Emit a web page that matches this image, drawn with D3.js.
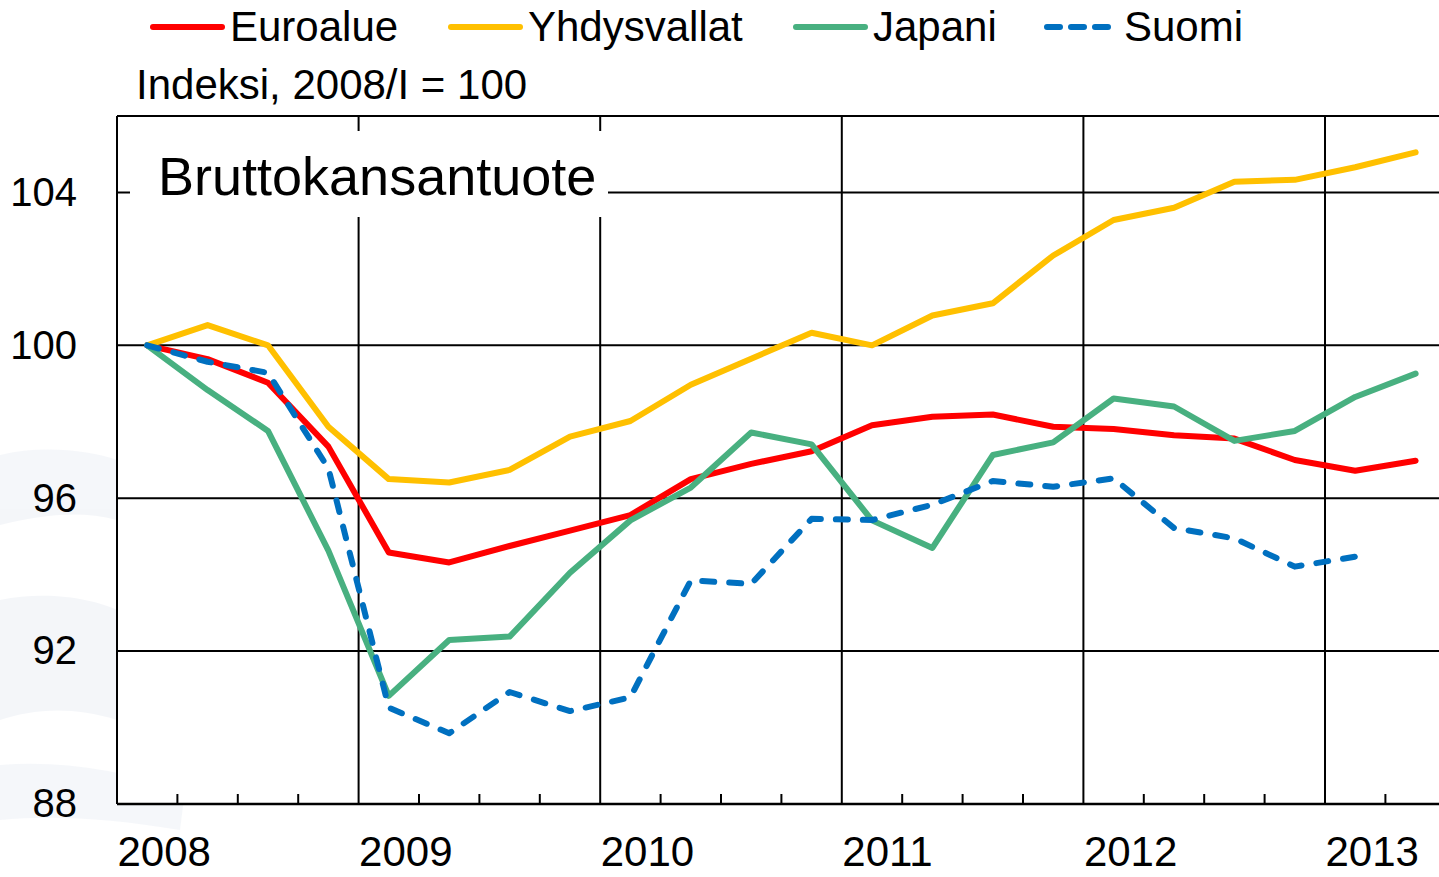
<!DOCTYPE html>
<meta charset="utf-8">
<head>
<style>
body { margin: 0; background: #fff; }
text { font-family: "Liberation Sans", Arial, sans-serif; fill: #000; }
</style>
</head>
<script src="https://d3js.org/d3.v7.min.js"></script>
<div id="chart"></div>
<script>

// quarterly data, 2008/I ... 2013/II
var years = ["2008", "2009", "2010", "2011", "2012", "2013"];
var yTicks = [88, 92, 96, 100, 104];

var euroalue = [100, 99.64, 99.02, 97.35, 94.58, 94.32, 94.75, 95.15, 95.56, 96.5, 96.9, 97.23,
                97.91, 98.13, 98.19, 97.87, 97.81, 97.65, 97.56, 97.0, 96.72, 96.98];
var yhdysvallat = [100, 100.53, 100.0, 97.87, 96.5, 96.41, 96.74, 97.61, 98.02, 98.97, 99.65, 100.33,
                   100.0, 100.78, 101.1, 102.35, 103.28, 103.6, 104.28, 104.33, 104.66, 105.05];
var japani = [100, 98.83, 97.76, 94.63, 90.83, 92.29, 92.38, 94.05, 95.42, 96.28, 97.72, 97.41,
              95.42, 94.7, 97.13, 97.46, 98.61, 98.4, 97.5, 97.76, 98.65, 99.26];
var suomi = [100, 99.57, 99.28, 96.78, 90.52, 89.85, 90.93, 90.43, 90.79, 93.85, 93.76, 95.46,
             95.43, 95.83, 96.45, 96.3, 96.52, 95.22, 94.95, 94.21, 94.47];

var series = [
  {name: "Euroalue", values: euroalue, color: "#ff0000", dash: null, lx: 153},
  {name: "Yhdysvallat", values: yhdysvallat, color: "#ffc000", dash: null, lx: 451},
  {name: "Japani", values: japani, color: "#48b080", dash: null, lx: 796},
  {name: "Suomi", values: suomi, color: "#0070c0", dash: "12,15", lx: 1047}
];

var W = 1439, H = 877;
var pLeft = 117, pTop = 116, pBottom = 804;
var nQ = 22;

var svg = d3.select("#chart").append("svg")
  .attr("width", W)
  .attr("height", H);

// faint background swooshes on the left
var bg = svg.append("g").attr("fill", "#eef1f6").attr("opacity", 0.6);
bg.append("path").attr("d", "M0,455 C40,445 90,450 117,460 L117,520 C80,510 40,515 0,525 Z");
bg.append("path").attr("d", "M0,600 C50,590 95,600 117,610 L117,720 C70,705 30,710 0,720 Z");
bg.append("path").attr("d", "M0,765 C60,760 120,770 185,790 L180,830 C110,818 50,815 0,820 Z");

var x = d3.scaleLinear().domain([0, nQ]).range([pLeft, pLeft + nQ * 60.4]);
var y = d3.scaleLinear().domain([88, 106]).range([pBottom, pTop]);

// plot background
svg.append("rect")
  .attr("x", pLeft).attr("y", pTop)
  .attr("width", W - pLeft).attr("height", pBottom - pTop)
  .attr("fill", "#fff");

// horizontal gridlines
svg.append("g")
  .selectAll("line")
  .data(yTicks.concat([106]))
  .join("line")
    .attr("x1", pLeft).attr("x2", W)
    .attr("y1", function(d) { return y(d); })
    .attr("y2", function(d) { return y(d); })
    .attr("stroke", "#000")
    .attr("stroke-width", 2);

// vertical year lines
svg.append("g")
  .selectAll("line")
  .data(years)
  .join("line")
    .attr("x1", function(d, i) { return x(i * 4); })
    .attr("x2", function(d, i) { return x(i * 4); })
    .attr("y1", pTop).attr("y2", pBottom)
    .attr("stroke", "#000")
    .attr("stroke-width", 2);

// quarter ticks on x axis
var qt = d3.range(1, nQ).filter(function(q) { return q % 4 != 0; });
svg.append("g")
  .selectAll("line")
  .data(qt)
  .join("line")
    .attr("x1", function(d) { return x(d); })
    .attr("x2", function(d) { return x(d); })
    .attr("y1", pBottom - 10).attr("y2", pBottom)
    .attr("stroke", "#000")
    .attr("stroke-width", 2);

// title box
svg.append("rect")
  .attr("x", 130).attr("y", 131)
  .attr("width", 478).attr("height", 86)
  .attr("fill", "#fff");
svg.append("text")
  .attr("x", 158).attr("y", 195)
  .attr("font-size", "54px")
  .text("Bruttokansantuote");

// y axis labels
var yAxis = svg.append("g")
  .attr("transform", "translate(" + pLeft + ",0)")
  .call(d3.axisLeft(y).tickValues(yTicks).tickSize(0).tickPadding(40));
yAxis.select(".domain").remove();
yAxis.selectAll("text")
  .attr("font-size", "40px")
  .attr("font-family", "Liberation Sans, Arial, sans-serif")
  .attr("fill", "#000");

// x axis labels
var xAxis = svg.append("g")
  .attr("transform", "translate(0," + pBottom + ")")
  .call(d3.axisBottom(x).tickValues(d3.range(0, nQ, 4))
    .tickFormat(function(d) { return years[d / 4]; })
    .tickSize(0).tickPadding(32));
xAxis.select(".domain").remove();
xAxis.selectAll("text")
  .attr("font-size", "42px")
  .attr("font-family", "Liberation Sans, Arial, sans-serif")
  .attr("fill", "#000")
  .attr("text-anchor", "start")
  .attr("dx", 0);

// lines
var line = d3.line()
  .x(function(d, i) { return x(i + 0.5); })
  .y(function(d) { return y(d); });

svg.append("g")
  .selectAll("path")
  .data(series)
  .join("path")
    .attr("d", function(d) { return line(d.values); })
    .attr("fill", "none")
    .attr("stroke", function(d) { return d.color; })
    .attr("stroke-width", 6)
    .attr("stroke-linejoin", "round")
    .attr("stroke-linecap", "round")
    .attr("stroke-dasharray", function(d) { return d.dash; });

// axis frame on top
svg.append("line")
  .attr("x1", pLeft).attr("x2", pLeft)
  .attr("y1", pTop).attr("y2", pBottom)
  .attr("stroke", "#000").attr("stroke-width", 2);
svg.append("line")
  .attr("x1", pLeft).attr("x2", W)
  .attr("y1", pBottom).attr("y2", pBottom)
  .attr("stroke", "#000").attr("stroke-width", 2.5);

// legend
var leg = svg.append("g")
  .selectAll("g")
  .data(series)
  .join("g")
    .attr("transform", function(d) { return "translate(" + d.lx + ",27)"; });
leg.append("line")
  .attr("x1", 0).attr("x2", 69)
  .attr("stroke", function(d) { return d.color; })
  .attr("stroke-width", 6)
  .attr("stroke-linecap", "round")
  .attr("stroke-dasharray", function(d) { return d.dash ? "13,11" : null; });
leg.append("text")
  .attr("x", function(d) { return d.dash ? 77 : 77; })
  .attr("y", 14)
  .attr("font-size", "42px")
  .text(function(d) { return d.name; });

svg.append("text")
  .attr("x", 136).attr("y", 99)
  .attr("font-size", "42px")
  .text("Indeksi, 2008/I = 100");

</script>
